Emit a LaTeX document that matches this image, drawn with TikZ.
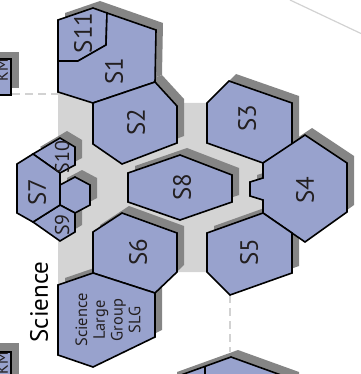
\documentclass[tikz,border=0pt]{standalone}
\usepackage{fontspec}
\setmainfont{PT Sans}
\definecolor{roomblue}{HTML}{98A2CD}
\definecolor{shadowgray}{HTML}{858585}
\definecolor{bggray}{HTML}{D4D4D4}
\definecolor{dashgray}{HTML}{D2D2D2}
\definecolor{labeltext}{HTML}{231F20}
\def\RmSeleven{(58,20) -- (93,8) -- (107,13) -- (106,45) -- (78,61) -- (58,61) -- cycle}
\def\RmSone{(107,13) -- (156,30) -- (155,82) -- (93,103) -- (58,92) -- (58,61) -- (78,61) -- (106,45) -- cycle}
\def\RmSoneOut{(58,20) -- (93,8) -- (156,30) -- (155,82) -- (93,103) -- (58,92) -- cycle}
\def\RmStwo{(93,103) -- (155,82) -- (177,106) -- (177,143) -- (122,164) -- (93,144) -- cycle}
\def\RmSthree{(229,81) -- (292,103) -- (292,145) -- (263,163) -- (207,143) -- (207,103) -- cycle}
\def\RmSfour{(305,135) -- (347,163) -- (347,212) -- (305,242) -- (263,213) -- (263,200) -- (250,196) -- (250,182) -- (263,178) -- (263,163) -- cycle}
\def\RmSfive{(207,233) -- (263,213) -- (292,233) -- (292,273) -- (230,295) -- (207,272) -- cycle}
\def\RmSeight{(180,155) -- (232,175) -- (232,202) -- (180,220) -- (128,202) -- (128,173) -- cycle}
\def\RmSsix{(122,213) -- (177,233) -- (177,272) -- (155,293) -- (93,273) -- (93,232) -- cycle}
\def\RmSLG{(58,285) -- (93,273) -- (155,293) -- (155,337) -- (93,367) -- (58,355) -- cycle}
\def\RmSten{(33,154) -- (60,138) -- (75,147) -- (75,165) -- (60,173) -- cycle}
\def\RmSmall{(60,185) -- (75,177) -- (90,185) -- (90,205) -- (75,213) -- (60,205) -- cycle}
\def\RmSnine{(33,222) -- (60,205) -- (75,213) -- (75,232) -- (60,241) -- cycle}
\def\RmSseven{(17,164) -- (33,154) -- (60,173) -- (60,205) -- (33,222) -- (17,213) -- cycle}
\def\RmBottom{(231,357) -- (292,379) -- (292,400) -- (170,400) -- (170,379) -- cycle}
\begin{document}
\begin{tikzpicture}[x=1pt,y=-1pt,
  room/.style={fill=roomblue, draw=black, line width=1.6pt, line join=miter},
  shade/.style={fill=shadowgray, shift={(7,-7)}},
  lbl/.style={font=\fontsize{25}{25}\selectfont, text=labeltext, rotate=90, inner sep=0pt},
  smalllbl/.style={font=\fontsize{20}{20}\selectfont, text=labeltext, rotate=90, inner sep=0pt},
  dashline/.style={draw=dashgray, line width=2pt, dash pattern=on 8pt off 5pt},
  thinline/.style={draw=dashgray, line width=1.2pt}]
\useasboundingbox (0,0) rectangle (360,374);
% light grey ground
\fill[bggray] (58,90) -- (120,90) -- (120,103) -- (262,103) -- (262,272) -- (100,272) -- (100,285) -- (58,285) -- cycle;
% thin line top right
\coordinate (tla) at (290,0);
\coordinate (tlb) at (362,34);
\draw[thinline] (tla) -- (tlb);
% dashed connectors
\coordinate (dha) at (12,94);
\coordinate (dhb) at (58,94);
\draw[dashline] (dha) -- (dhb);
\coordinate (dva) at (230,295);
\coordinate (dvb) at (230,352);
\draw[dashline] (dva) -- (dvb);
% shadows
\fill[shade] \RmSoneOut;
\fill[shade] \RmStwo;
\fill[shade] \RmSthree;
\fill[shade] \RmSfour;
\fill[shade] \RmSfive;
\fill[shade] \RmSeight;
\fill[shade] \RmSsix;
\fill[shade] \RmSLG;
\fill[shade] \RmSten;
\fill[shade] \RmSmall;
\fill[shade] \RmSnine;
\fill[shade] \RmBottom;
\fill[shadowgray] (-5,52) rectangle (19,88);
\fill[shadowgray] (-5,343) rectangle (19,390);
% rooms
\draw[room] \RmSeleven;
\draw[room] \RmSone;
\draw[room] \RmStwo;
\draw[room] \RmSthree;
\draw[room] \RmSfour;
\draw[room] \RmSfive;
\draw[room] \RmSeight;
\draw[room] \RmSsix;
\draw[room] \RmSLG;
\draw[room] \RmSten;
\draw[room] \RmSmall;
\draw[room] \RmSnine;
\draw[room] \RmSseven;
\draw[room] \RmBottom;
\coordinate (bia) at (205,366);
\coordinate (bib) at (205,395);
\draw[black, line width=1.6pt] (bia) -- (bib);
\draw[room] (-5,59) rectangle (11,95);
\draw[room] (-5,352) rectangle (11,390);
% labels
\node[lbl] (l11) at (83,33) {S11};
\node[lbl] (l1) at (114,71) {S1};
\node[lbl] (l2) at (136,122) {S2};
\node[lbl] (l3) at (247,118) {S3};
\node[lbl] (l4) at (305,190) {S4};
\node[lbl] (l5) at (249,252) {S5};
\node[lbl] (l6) at (138,252) {S6};
\node[lbl] (l8) at (182,187) {S8};
\node[lbl] (l7) at (37,192) {S7};
\node[smalllbl] (l10) at (62,157) {S10};
\node[smalllbl] (l9) at (62,225) {S9};
\node[rotate=90, inner sep=0pt, align=center, text=labeltext, font=\fontsize{16.4}{17.7}\selectfont] (lslg) at (108,320) {Science\\Large\\Group\\SLG};
\node[rotate=90, inner sep=0pt, text=black, font=\fontsize{25}{25}\selectfont] (lsci) at (39,302) {Science};
\node[rotate=90, anchor=base, inner sep=0pt, text=labeltext, font=\fontsize{16}{16}\selectfont] (lbox1) at (8,70) {KM};
\node[rotate=90, anchor=base, inner sep=0pt, text=labeltext, font=\fontsize{16}{16}\selectfont] (lbox2) at (8,363) {KM};
\end{tikzpicture}
\end{document}
